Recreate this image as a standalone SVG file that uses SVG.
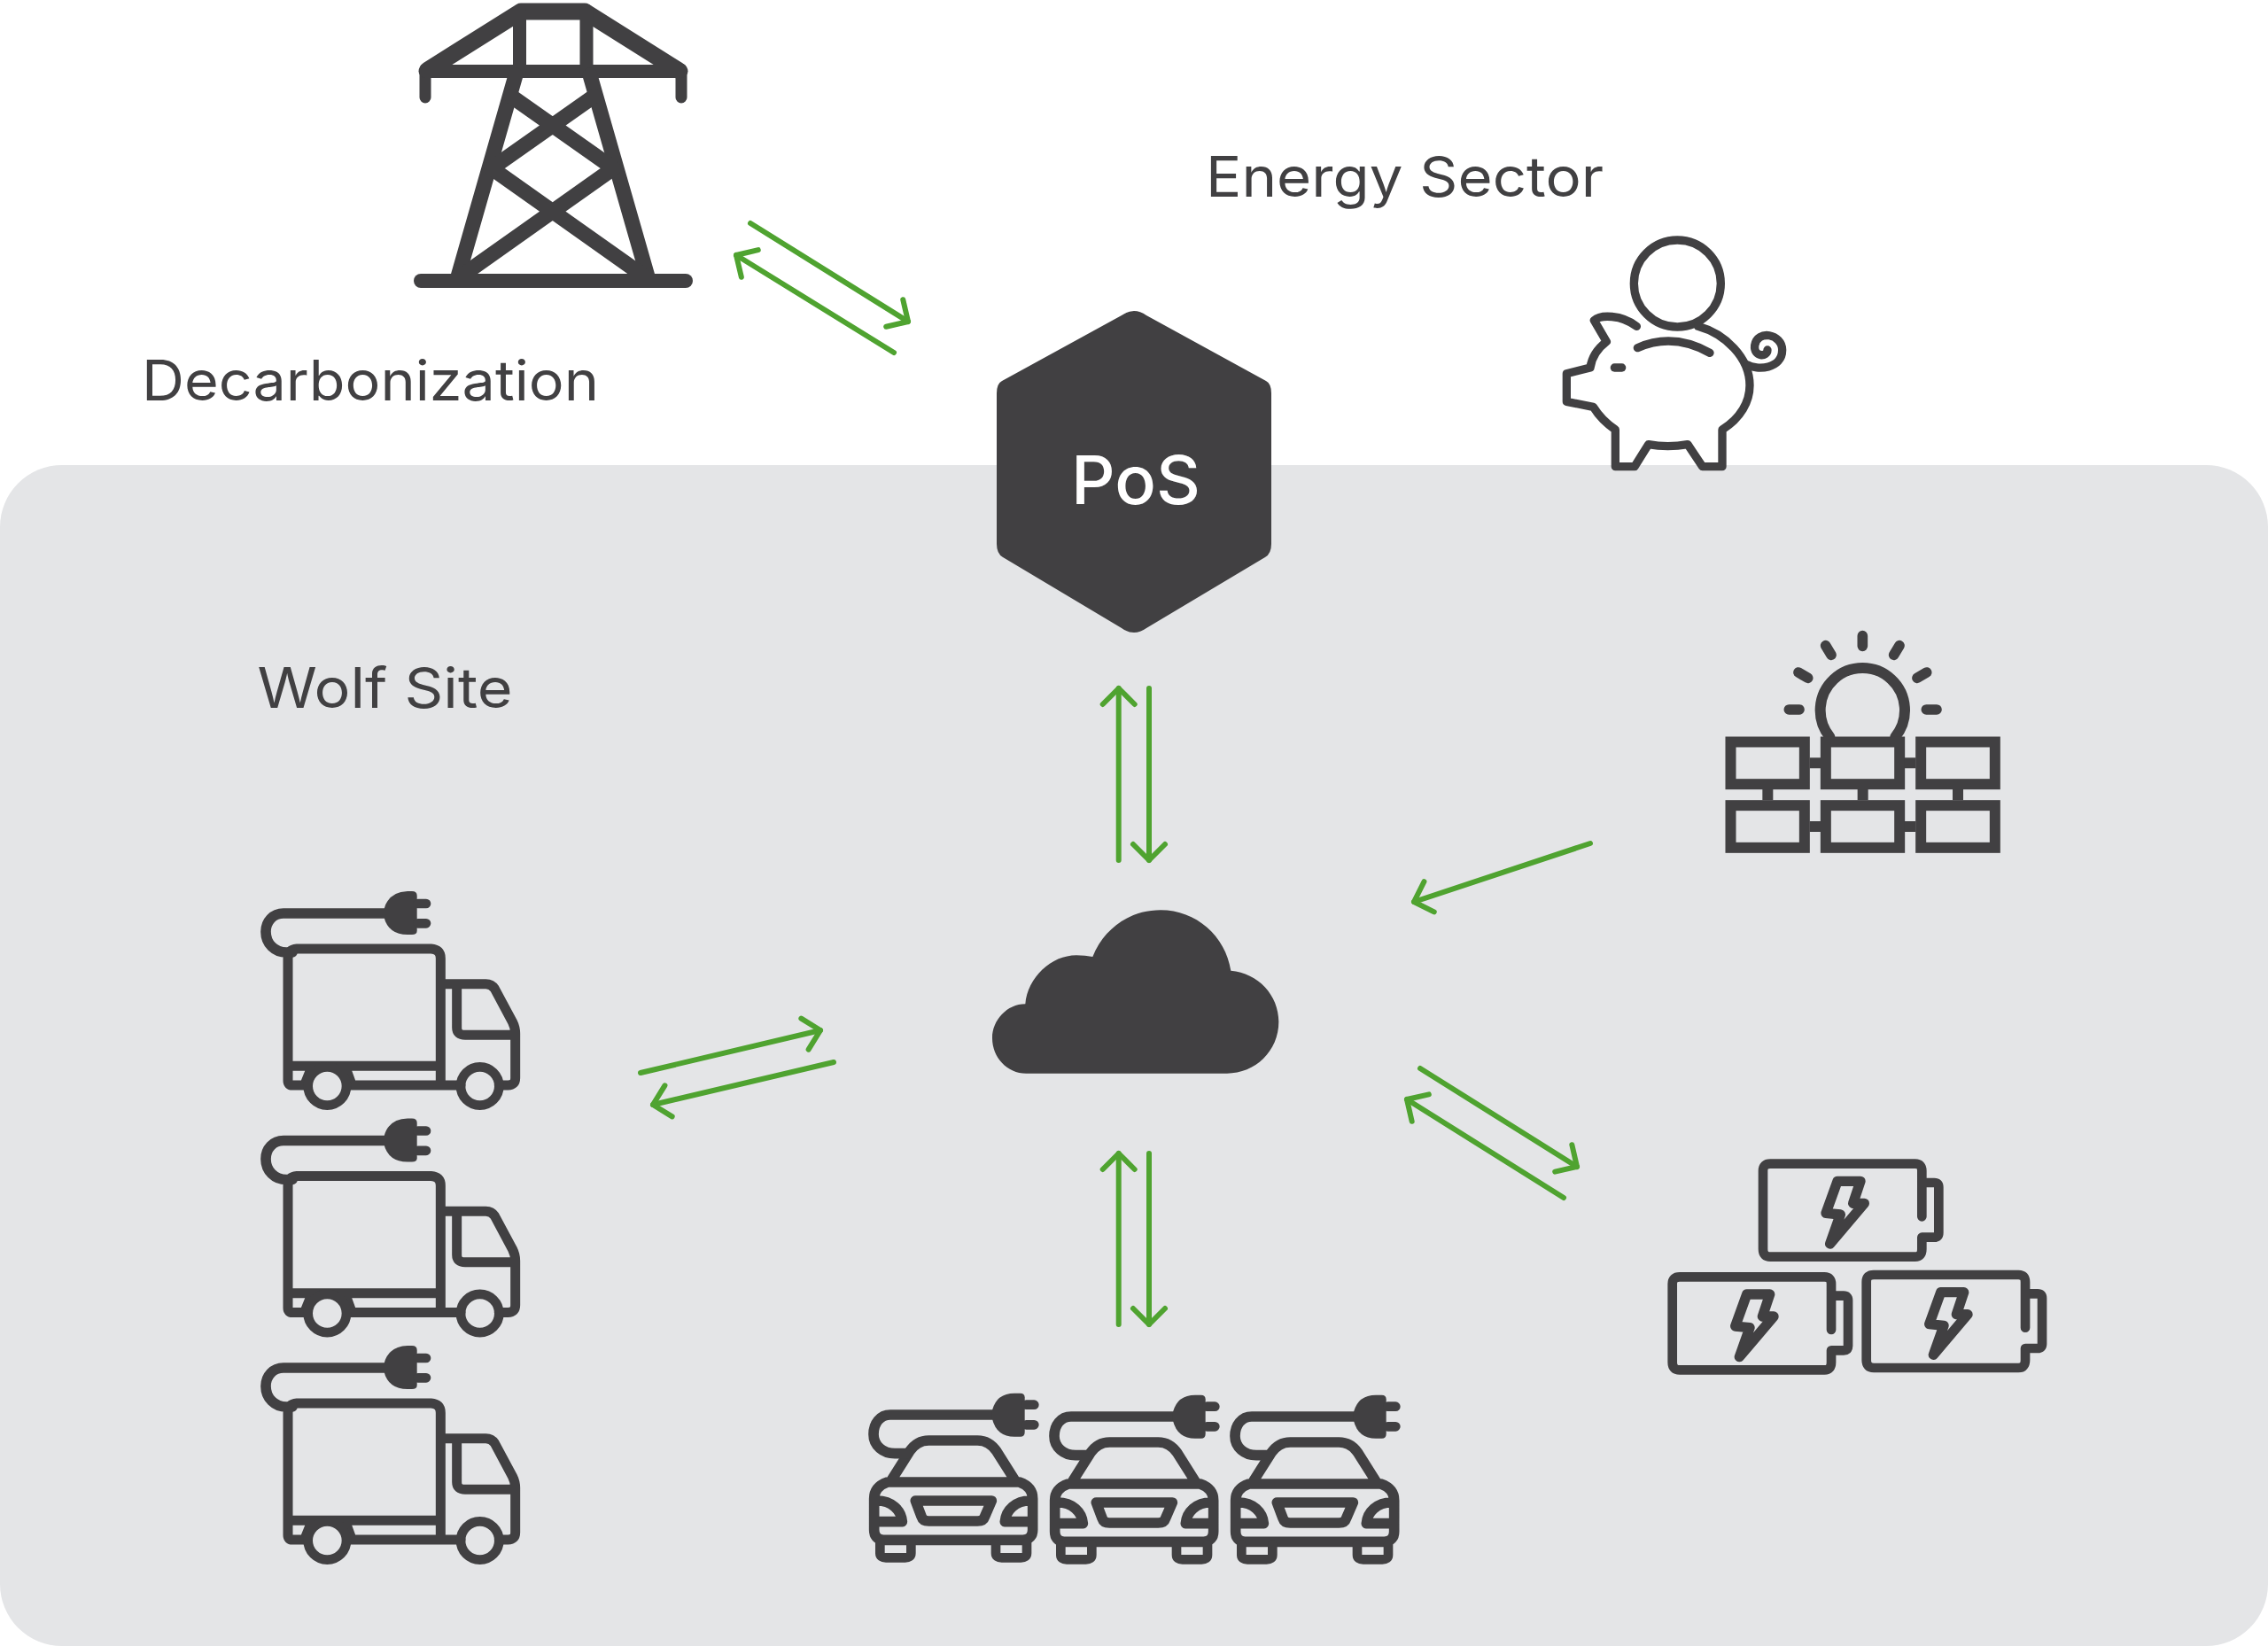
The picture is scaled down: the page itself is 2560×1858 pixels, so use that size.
<svg xmlns="http://www.w3.org/2000/svg" width="2560" height="1858" viewBox="0 0 2560 1858">
<style>
.t{font-family:Inter,"Liberation Sans",sans-serif;font-size:63px;font-weight:400;fill:#414042}
.s{fill:none;stroke:#414042;stroke-linecap:round;stroke-linejoin:round}
.f{fill:#414042}
.c{fill:none;stroke:#4fa330;stroke-width:6;stroke-linecap:round;stroke-linejoin:round}
</style>
<defs>
<marker id="a" markerUnits="userSpaceOnUse" orient="auto" markerWidth="60" markerHeight="60" viewBox="-30 -30 60 60" refX="0" refY="0"><path d="M-18,-18L0,0L-18,18" class="c"/></marker>
<g id="truck-shape" transform="scale(.33333)">
<path class="s" stroke-width="33" d="M135,640L135,275Q135,245 165,243L620,243Q652,245 652,275L652,705M135,640L652,640M135,640L135,690Q135,705 150,705L195,705M215,645L195,695M330,645L350,700M340,705L720,705M850,705L880,705Q905,705 905,680L905,530Q905,510 895,490L835,378Q825,362 805,362L652,362M707,370L707,510Q707,535 735,535L905,535"/>
<circle class="s" stroke-width="32" cx="268" cy="708" r="65"/>
<circle class="s" stroke-width="32" cx="785" cy="708" r="65"/>
<path class="s" stroke-width="35" d="M460,123L120,123C85,123 60,150 60,185C60,225 90,255 130,255L150,255"/>
<path class="f" d="M460,110Q475,50 540,48L555,48Q572,48 572,62L572,182Q572,195 555,195L540,195Q475,195 460,135Z"/>
<path class="s" stroke-width="32" d="M575,90L603,90M575,157L603,157"/>
</g>
<g id="car-shape" transform="scale(.33333)">
<path class="s" stroke-width="35" d="M140,360L200,265Q225,228 265,228L430,228Q470,228 495,265L555,360M125,369L572,369Q617,385 617,425L617,530Q617,562 585,565L110,565Q80,562 80,530L80,425Q80,385 125,369M85,432C140,430 172,465 175,503L85,503M613,432C558,430 526,465 523,503L613,503M220,432L478,432L455,485Q450,501 430,501L265,501Q245,501 240,485Z"/>
<path class="s" stroke-width="32" d="M100,575L100,610Q100,625 120,625L185,625Q205,625 205,610L205,575M492,575L492,610Q492,625 512,625L577,625Q597,625 597,610L597,575"/>
<path class="s" stroke-width="35" d="M480,141L135,141C100,141 78,170 78,207C78,245 110,272 150,272L190,272"/>
<path class="f" d="M480,125Q495,68 555,68L575,68Q590,68 590,82L590,200Q590,215 575,215L555,215Q495,215 480,155Z"/>
<path class="s" stroke-width="32" d="M595,107L622,107M595,175L622,175"/>
</g>
<g id="battery-shape" transform="scale(.33333)">
<path class="s" stroke-width="32" d="M898,250L898,95Q898,71 875,71L385,71Q360,71 360,95L360,360Q360,386 385,386L875,386Q898,386 898,360L898,320L940,320Q955,320 955,305L955,150Q955,135 940,135L898,135"/>
<path class="s" stroke-width="34" d="M612,130L690,130L665,205L703,205L587,342L622,243L573,238Z"/>
</g>
</defs>
<rect width="2560" height="1858" fill="#fff"/>
<rect id="wolf-site-area" x="0" y="525" width="2560" height="1333" rx="70" fill="#e4e5e7"/>
<text class="t" x="160" y="452" textLength="516" lengthAdjust="spacingAndGlyphs">Decarbonization</text>
<text class="t" x="1361" y="222" textLength="449" lengthAdjust="spacingAndGlyphs">Energy Sector</text>
<text class="t" x="290.500" y="799" textLength="288" lengthAdjust="spacingAndGlyphs">Wolf Site</text>
<g id="connectors">
<path class="c" marker-end="url(#a)" d="M847,252L1025,363"/>
<path class="c" marker-end="url(#a)" d="M1009,398L831,288"/>
<path class="c" marker-end="url(#a)" d="M1262.700,971L1262.700,777"/>
<path class="c" marker-end="url(#a)" d="M1297,777L1297,971"/>
<path class="c" marker-end="url(#a)" d="M1262.700,1495L1262.700,1302"/>
<path class="c" marker-end="url(#a)" d="M1297,1302L1297,1495"/>
<path class="c" marker-end="url(#a)" d="M1795,952L1596,1018"/>
<path class="c" marker-end="url(#a)" d="M1603,1206L1780,1317"/>
<path class="c" marker-end="url(#a)" d="M1765,1352L1588,1241"/>
<path class="c" marker-end="url(#a)" d="M723,1211L926,1163"/>
<path class="c" marker-end="url(#a)" d="M941,1199L737,1247"/>
</g>
<g id="tower">
<path class="s" stroke-width="19" d="M483,79L588,13L660,13L765,79"/>
<path class="s" stroke-width="13" d="M480,78L480,110M769,78L769,110"/>
<path class="s" stroke-width="15" d="M480,80.500L769,80.500"/>
<path class="s" stroke-width="15" d="M586.500,12L586.500,80M662,12L662,80"/>
<path class="s" stroke-width="17" d="M582,85L517,312M666,85L731,312"/>
<path class="s" stroke-width="17" stroke-linecap="butt" d="M577.500,109L692.500,190L523,310M670,109L555,190L724.500,310"/>
<rect class="f" x="467" y="309" width="315" height="16" rx="8"/>
</g>
<g id="piggy" transform="translate(1740,240) scale(.33333)">
<circle class="s" stroke-width="28" cx="460" cy="240" r="147"/>
<path class="s" stroke-width="28" d="M322,385C270,345 200,345 178,365L220,437C190,460 170,490 165,525L85,545L85,640L175,658C195,690 220,715 250,735L250,860L315,860L362,785C405,793 450,793 495,785L545,860L612,860L612,735C675,695 705,640 705,585C705,490 620,410 530,385"/>
<path class="s" stroke-width="28" d="M695,515C730,535 815,530 815,465C815,410 730,395 722,450C718,490 765,490 765,465M325,458Q445,405 570,475"/>
<path class="s" stroke-width="28" d="M247,525L272,525"/>
</g>
<g id="solar" transform="translate(1920,690) scale(.33333)">
<path class="s" stroke-width="36" d="M436,425A143,143 0 1 1 658,425"/>
<path class="s" stroke-width="35" d="M298,333L333,333M763,333L798,333M547,83L547,118M422,116L441,148M672,116L653,148M330,207L362,226M764,207L732,226"/>
<g fill="none" stroke="#414042" stroke-width="36">
<rect x="100.500" y="442.500" width="250" height="143"/>
<rect x="422.500" y="442.500" width="250" height="143"/>
<rect x="744.500" y="442.500" width="251" height="143"/>
<rect x="100.500" y="657.500" width="250" height="143"/>
<rect x="422.500" y="657.500" width="250" height="143"/>
<rect x="744.500" y="657.500" width="251" height="143"/>
<path d="M368,514L405,514M690,514L727,514M368,729L405,729M690,729L727,729M226,603L226,640M548,603L548,640M870,603L870,640"/>
</g>
</g>
<g id="truck-1"><use href="#truck-shape" x="280" y="990"/></g>
<g id="truck-2"><use href="#truck-shape" x="280" y="1246.500"/></g>
<g id="truck-3"><use href="#truck-shape" x="280" y="1503"/></g>
<g id="car-1"><use href="#car-shape" x="960" y="1550"/></g>
<g id="car-2"><use href="#car-shape" x="1164" y="1552"/></g>
<g id="car-3"><use href="#car-shape" x="1368" y="1552"/></g>
<g id="battery-1"><use href="#battery-shape" x="1870" y="1290"/></g>
<g id="battery-2"><use href="#battery-shape" x="1767.700" y="1417.700"/></g>
<g id="battery-3"><use href="#battery-shape" x="1986.700" y="1415.300"/></g>
<g id="pos">
<path class="f" d="M1266,356Q1280,346 1294,356L1429,430Q1435,433 1435,444L1435,614Q1435,625 1428,629L1294,709Q1280,719 1266,709L1132,629Q1125,625 1125,614L1125,444Q1125,433 1131,430Z"/>
<text x="1209" y="569" textLength="146" lengthAdjust="spacingAndGlyphs" style="font-family:Inter,'Liberation Sans',sans-serif;font-size:76px;font-weight:500" fill="#fff">PoS</text>
</g>
<g id="cloud" transform="translate(1100,1000) scale(.33333)">
<path class="f" d="M175,635C110,635 60,580 60,515C60,455 110,400 172,400C180,310 260,235 345,235Q375,235 400,240C440,140 530,82 630,82C750,82 850,170 868,287C960,295 1030,370 1030,460C1030,560 950,635 855,635Z"/>
</g>
</svg>
